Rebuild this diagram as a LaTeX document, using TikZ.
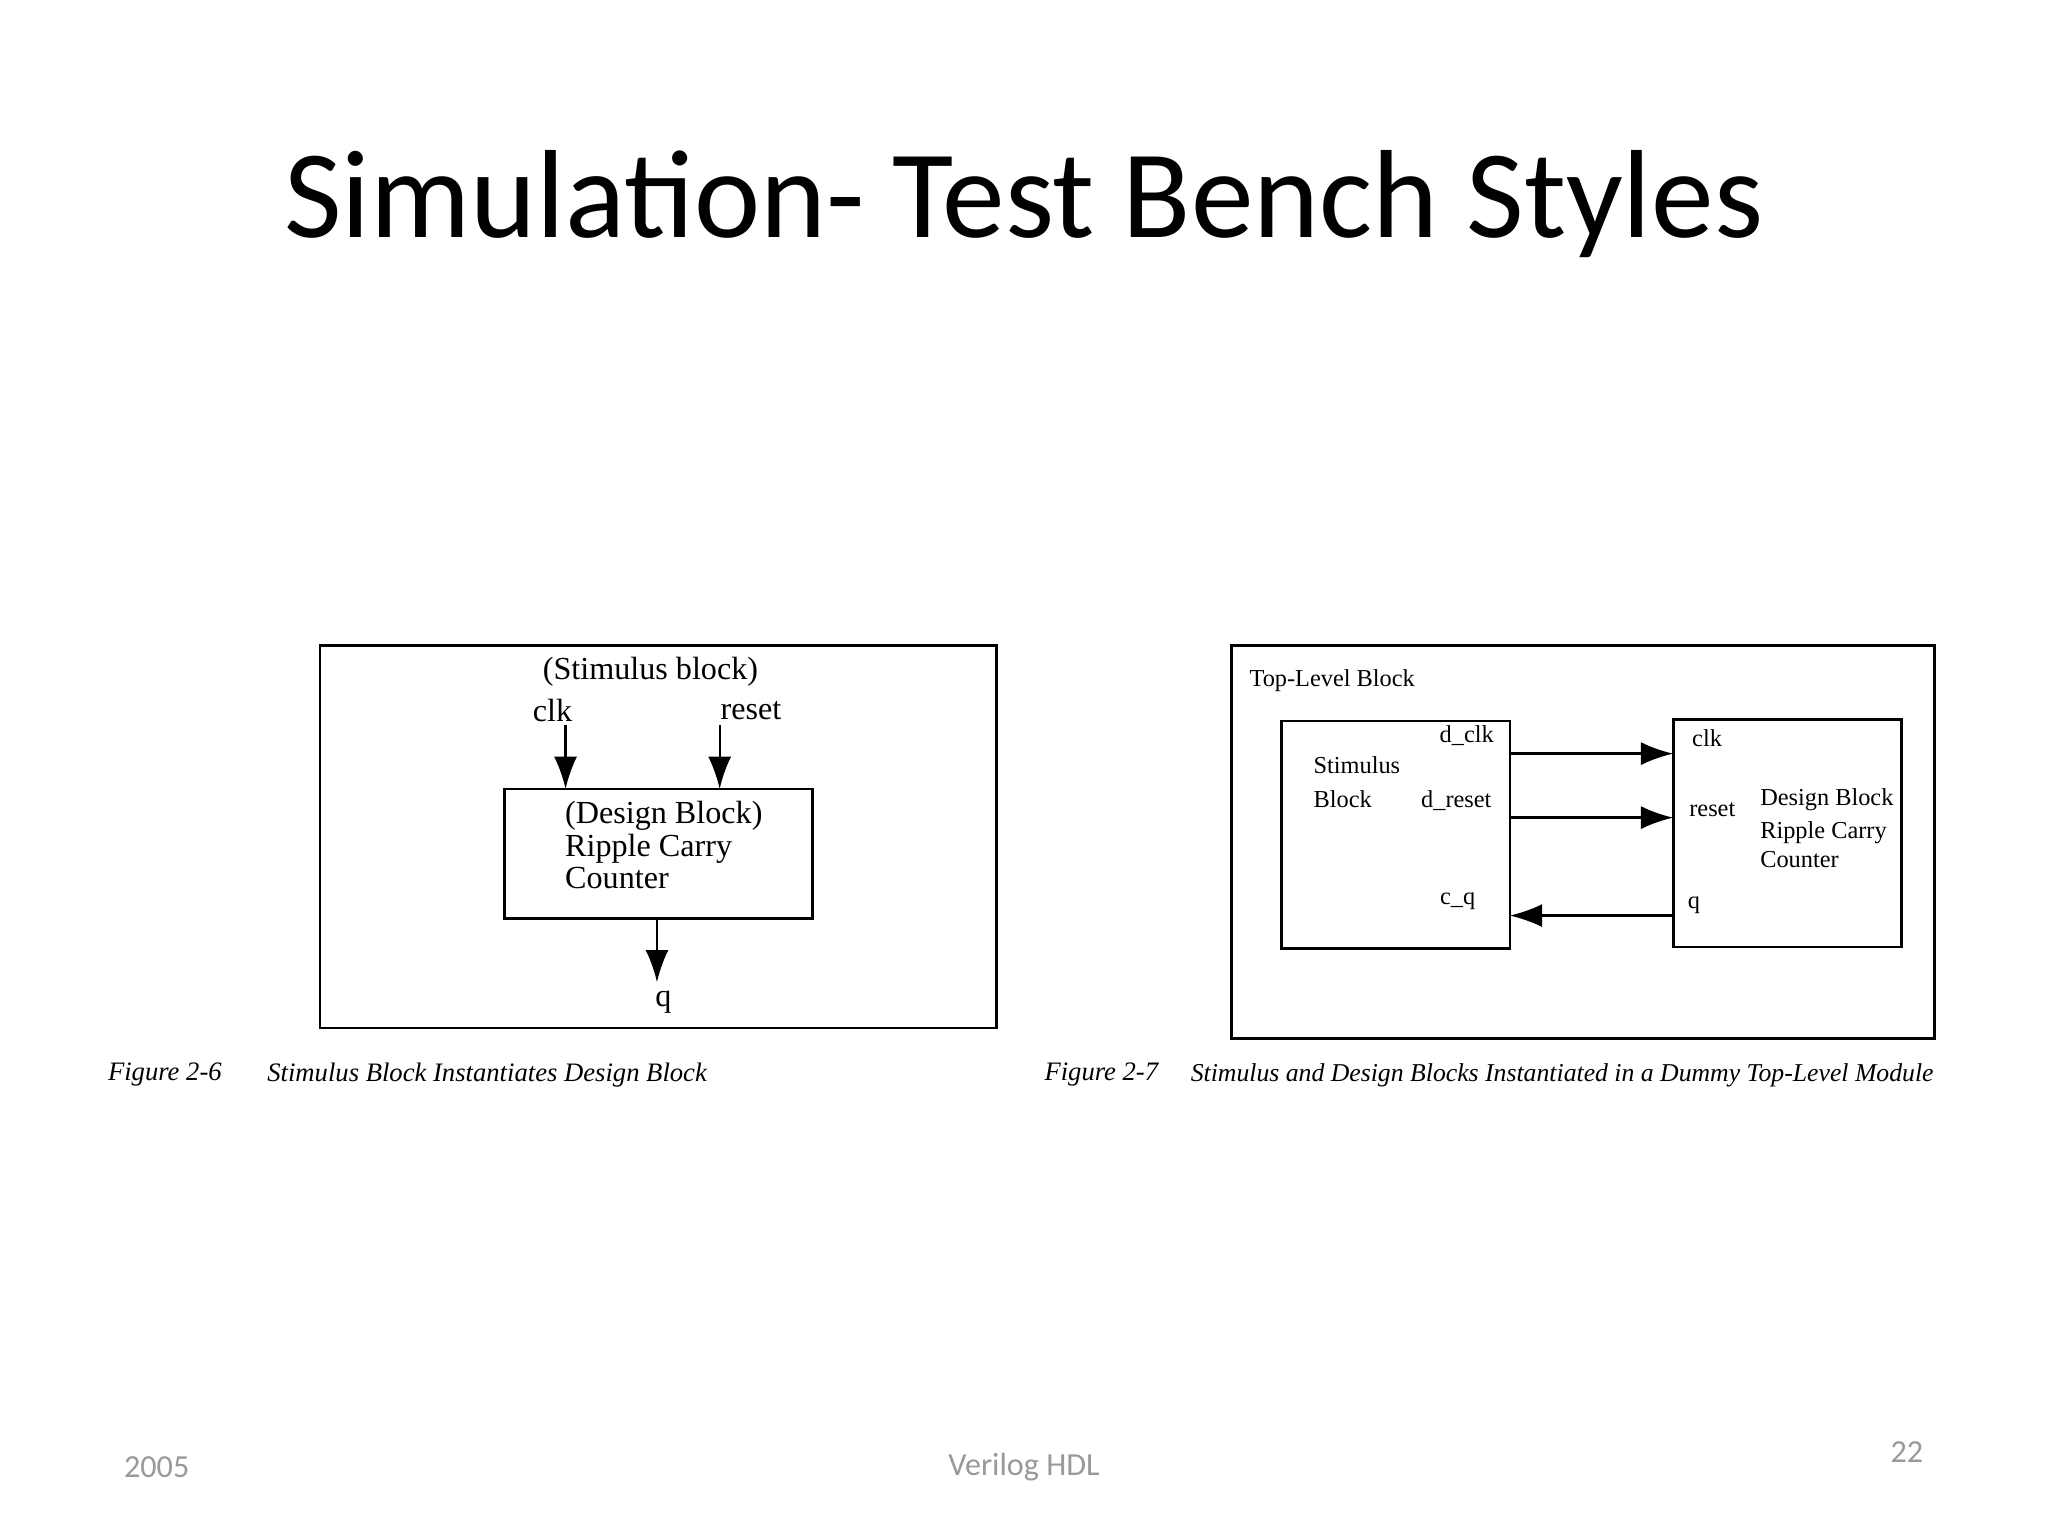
\documentclass[tikz,border=0pt]{standalone}
\usepackage{fontspec}
\setmainfont{Liberation Serif}
\newfontfamily\titlefont{Carlito}
\usetikzlibrary{arrows.meta}
\begin{document}
\begin{tikzpicture}[x=0.01cm,y=-0.01cm,
  box/.style={draw,line width=0.6pt},
  sig/.style={line width=0.5pt,-{Latex[length=7pt,width=5pt]}},
  lbl/.style={font=\fontsize{7}{8.5}\selectfont,inner sep=0pt},
  sml/.style={font=\fontsize{5.3}{6.3}\selectfont,inner sep=0pt},
  captxt/.style={font=\fontsize{5.8}{6.5}\selectfont\itshape,inner sep=0pt,anchor=west},
  foot/.style={font=\titlefont\fontsize{7}{8}\selectfont,text=gray!80,inner sep=0pt}]
\useasboundingbox (0,0) rectangle (1568,1176);
\node[font=\titlefont\fontsize{27.3}{30}\selectfont] (title) at (784,156) {Simulation- Test Bench Styles};
% Figure 2-6
\draw[box] (245,494) rectangle (763,787);
\node[lbl] (stim) at (498,514) {(Stimulus block)};
\node[lbl] (clk) at (423,544) {clk};
\node[lbl] (reset) at (575,544) {reset};
\path (386,604) coordinate (dbnw) (622,703) coordinate (dbse);
\draw[box] (dbnw) rectangle (dbse);
\coordinate (c1) at (433,555); \coordinate (c2) at (433,604);
\coordinate (r1) at (551,555); \coordinate (r2) at (551,604);
\coordinate (q1) at (503,703); \coordinate (q2) at (503,752);
\draw[sig] (c1) -- (c2);
\draw[sig] (r1) -- (r2);
\draw[sig] (q1) -- (q2);
\node[lbl,anchor=west,align=left,font=\fontsize{7}{7.1}\selectfont] (dbt) at (432,647) {(Design Block)\\Ripple Carry\\Counter};
\node[lbl] (q) at (508,767) {q};
\node[captxt] (cap1a) at (82,823) {Figure 2-6};
\node[captxt] (cap1b) at (204,823) {Stimulus Block Instantiates Design Block};
% Figure 2-7
\draw[box] (943,494) rectangle (1481,795);
\node[sml,anchor=west] (tlb) at (956,521) {Top-Level Block};
\draw[box] (981,552) rectangle (1156,726);
\draw[box] (1281,551) rectangle (1456,725);
\node[sml,anchor=west,align=left] (sb) at (1005,599) {Stimulus\\[1pt]Block};
\node[sml] (dclk) at (1123,563) {d\_clk};
\node[sml] (dreset) at (1115,613) {d\_reset};
\node[sml] (cq) at (1116,690) {c\_q};
\node[sml] (clk2) at (1307,565) {clk};
\node[sml] (reset2) at (1311,620) {reset};
\node[sml] (q3) at (1297,693) {q};
\node[sml,anchor=west,align=left] (dbt2) at (1347,634) {Design Block\\[1pt]Ripple Carry\\Counter};
\coordinate (a1) at (1156,577); \coordinate (a2) at (1281,577);
\coordinate (b1) at (1156,626); \coordinate (b2) at (1281,626);
\coordinate (e1) at (1281,701); \coordinate (e2) at (1156,701);
\draw[sig] (a1) -- (a2);
\draw[sig] (b1) -- (b2);
\draw[sig] (e1) -- (e2);
\node[captxt] (cap2a) at (799,823) {Figure 2-7};
\node[captxt,font=\fontsize{5.6}{6.5}\selectfont\itshape] (cap2b) at (911,823) {Stimulus and Design Blocks Instantiated in a Dummy Top-Level Module};
% footer
\node[foot] (f1) at (120,1123) {2005};
\node[foot] (f2) at (784,1123) {Verilog HDL};
\node[foot] (f3) at (1460,1112) {22};
\end{tikzpicture}
\end{document}
